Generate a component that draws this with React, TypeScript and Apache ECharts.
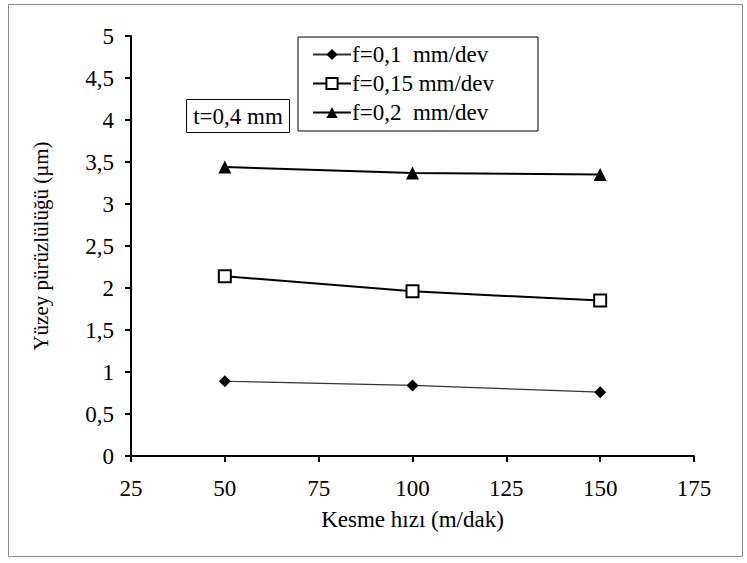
import React, { useEffect, useRef } from "react";
import * as echarts from "echarts";

const speeds = [50, 100, 150];
const f01 = [0.89, 0.84, 0.76];
const f015 = [2.14, 1.96, 1.85];
const f02 = [3.44, 3.37, 3.35];
const seriesNames = ["f=0,1  mm/dev", "f=0,15 mm/dev", "f=0,2  mm/dev"];
const xTicks = [25, 175, 25]; // min, max, interval
const yTicks = [0, 5, 0.5];

const FONT = "Times New Roman, Times, serif";
const FS = 23;

export default function App() {
  const ref = useRef<HTMLDivElement>(null);
  useEffect(() => {
    if (!ref.current) return;
    const chart = echarts.init(ref.current, undefined, { renderer: "svg" });
    const pair = (ys: number[]) => speeds.map((x, i) => [x, ys[i]]);
    chart.setOption({
      animation: false,
      backgroundColor: "#fff",
      textStyle: { fontFamily: FONT },
      grid: { left: 131, right: 53, top: 36, bottom: 107 },
      xAxis: {
        type: "value",
        min: xTicks[0],
        max: xTicks[1],
        interval: xTicks[2],
        name: "Kesme hızı (m/dak)",
        nameLocation: "middle",
        nameGap: 52,
        nameTextStyle: { fontFamily: FONT, fontSize: FS, color: "#000" },
        axisLine: { lineStyle: { color: "#000", width: 2 } },
        axisTick: { show: true, inside: false, length: 6, lineStyle: { color: "#000", width: 2 } },
        axisLabel: { fontFamily: FONT, fontSize: FS, color: "#000", margin: 21 },
        splitLine: { show: false },
      },
      yAxis: {
        type: "value",
        min: yTicks[0],
        max: yTicks[1],
        interval: yTicks[2],
        name: "Yüzey pürüzlülüğü (µm)",
        nameLocation: "middle",
        nameGap: 80,
        nameTextStyle: { fontFamily: FONT, fontSize: 21, color: "#000" },
        axisLine: { show: true, lineStyle: { color: "#000", width: 2 } },
        axisTick: { show: true, inside: false, length: 6, lineStyle: { color: "#000", width: 2 } },
        axisLabel: {
          fontFamily: FONT,
          fontSize: FS,
          color: "#000",
          margin: 17,
          formatter: (v: number) => String(v).replace(".", ","),
        },
        splitLine: { show: false },
      },
      legend: {
        orient: "vertical",
        left: 298,
        top: 37,
        borderColor: "#000",
        borderWidth: 1,
        padding: [6, 44, 7, 14],
        itemGap: 6,
        itemWidth: 38,
        itemHeight: 14,
        textStyle: { fontFamily: FONT, fontSize: FS, color: "#000", padding: [0, 0, 0, -4] },
        data: seriesNames,
      },
      graphic: [
        {
          type: "rect",
          shape: { x: 8.5, y: 4.5, width: 734, height: 552 },
          style: { fill: "none", stroke: "#8c8c8c", lineWidth: 1 },
          silent: true,
        },
        {
          type: "rect",
          shape: { x: 186.5, y: 99.5, width: 103, height: 33 },
          style: { fill: "#fff", stroke: "#000", lineWidth: 1 },
          silent: true,
        },
        {
          type: "text",
          x: 238,
          y: 116,
          style: {
            text: "t=0,4 mm",
            fontFamily: FONT,
            fontSize: FS,
            fill: "#000",
            align: "center",
            verticalAlign: "middle",
          },
          silent: true,
        },
      ],
      series: [
        {
          name: seriesNames[0],
          type: "line",
          data: pair(f01),
          symbol: "diamond",
          symbolSize: 12,
          itemStyle: { color: "#000" },
          lineStyle: { color: "#333", width: 1.2 },
        },
        {
          name: seriesNames[1],
          type: "line",
          data: pair(f015),
          symbol: "rect",
          symbolSize: 12,
          itemStyle: { color: "#fff", borderColor: "#000", borderWidth: 2 },
          lineStyle: { color: "#000", width: 2 },
        },
        {
          name: seriesNames[2],
          type: "line",
          data: pair(f02),
          symbol: "triangle",
          symbolSize: 13,
          itemStyle: { color: "#000" },
          lineStyle: { color: "#000", width: 2 },
        },
      ],
    });
    return () => chart.dispose();
  }, []);
  return (
    <div
      ref={ref}
      style={{ position: "absolute", left: 0, top: 0, width: 747, height: 563 }}
    />
  );
}
